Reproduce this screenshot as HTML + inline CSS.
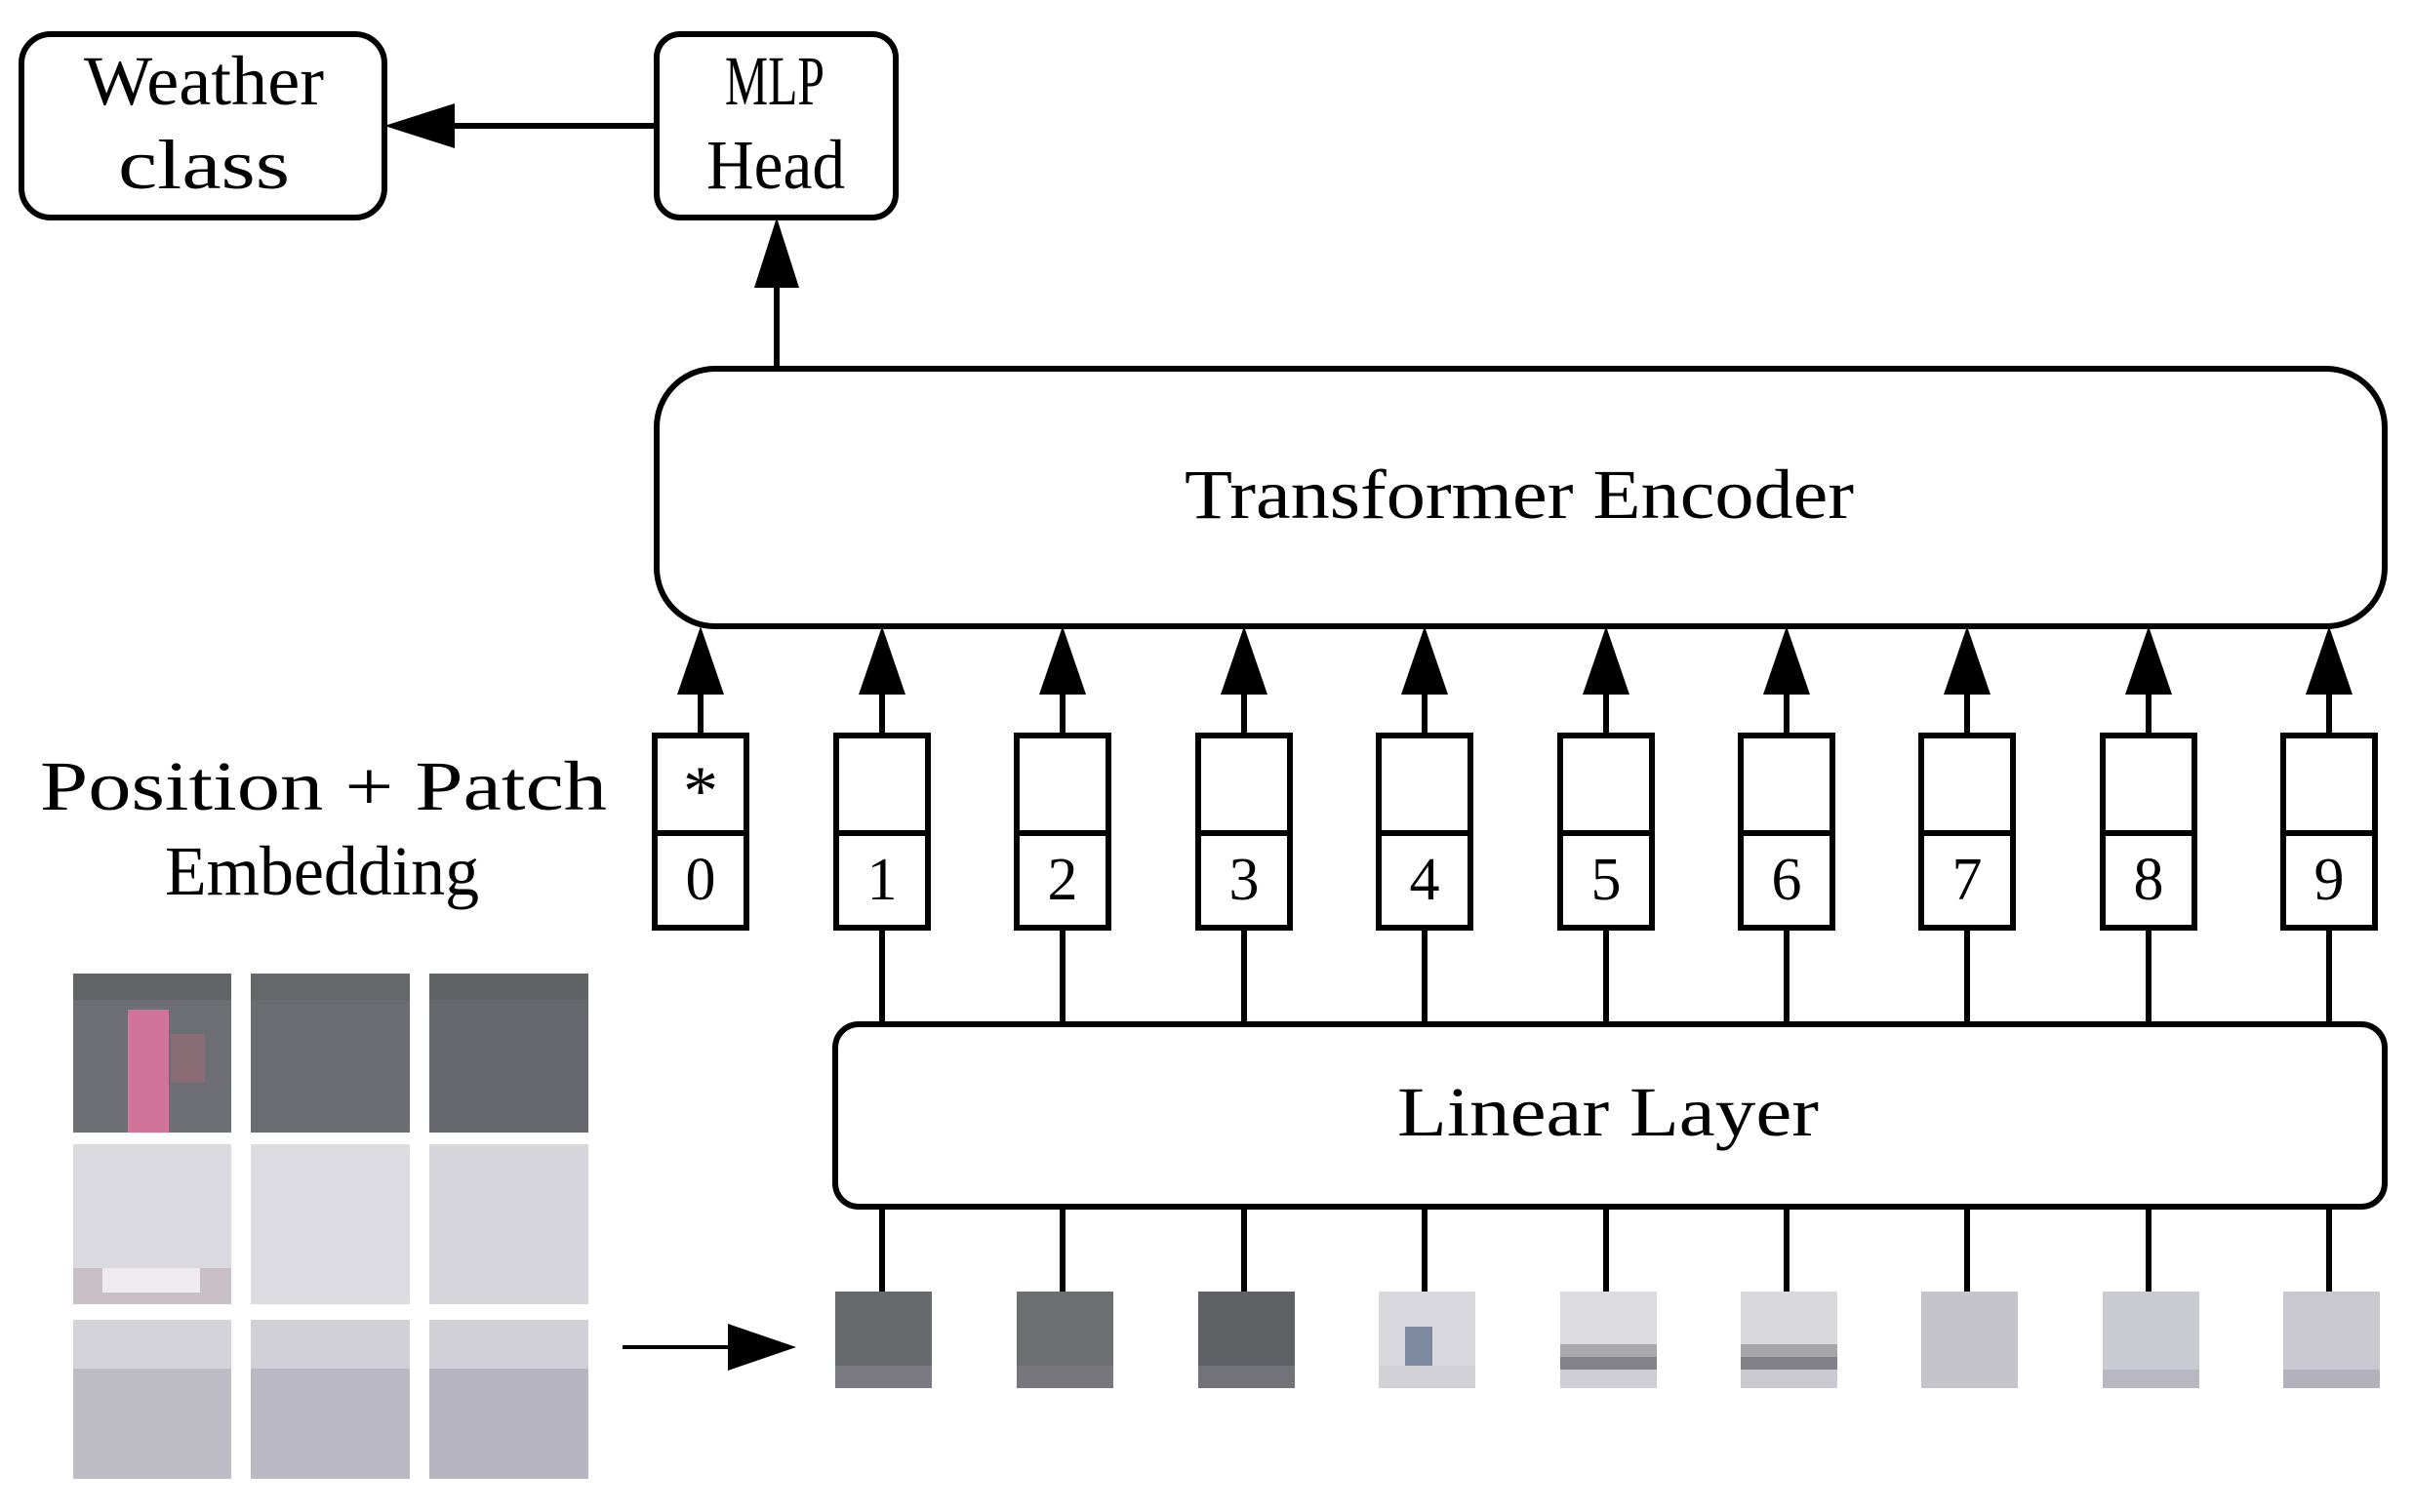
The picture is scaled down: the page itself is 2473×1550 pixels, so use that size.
<!DOCTYPE html>
<html><head><meta charset="utf-8"><style>html,body{margin:0;padding:0;background:#fff}svg{display:block}</style></head>
<body>
<svg width="2473" height="1550" viewBox="0 0 2473 1550" xmlns="http://www.w3.org/2000/svg" font-family="'Liberation Serif', serif">
<rect width="2473" height="1550" fill="#fff"/>
<g fill="none" stroke="#000" stroke-width="6">
  <rect x="22" y="35" width="372" height="188" rx="30"/>
  <rect x="673" y="35" width="245" height="188" rx="24"/>
  <rect x="673" y="378" width="1771" height="264" rx="60"/>
  <rect x="856" y="1050" width="1588" height="187" rx="24"/>
  <line x1="673" y1="129" x2="460" y2="129"/>
  <line x1="796" y1="378" x2="796" y2="290"/>
  <line x1="638" y1="1381" x2="750" y2="1381" stroke-width="4"/>
</g>
<g fill="#000">
  <polygon points="394,129 466,106 466,152"/>
  <polygon points="796,223 773,295 819,295"/>
  <polygon points="816,1381 746,1357 746,1405"/>
</g>
<g id="cols"></g>
<g font-size="72" fill="#000">
  <text x="86" y="107" textLength="246" lengthAdjust="spacingAndGlyphs">Weather</text>
  <text x="121" y="193" textLength="176" lengthAdjust="spacingAndGlyphs">class</text>
  <text x="743" y="107" textLength="102" lengthAdjust="spacingAndGlyphs">MLP</text>
  <text x="724" y="193" textLength="142" lengthAdjust="spacingAndGlyphs">Head</text>
  <text x="1214" y="531" textLength="686" lengthAdjust="spacingAndGlyphs">Transformer Encoder</text>
  <text x="1432" y="1164" textLength="432" lengthAdjust="spacingAndGlyphs">Linear Layer</text>
  <text x="41" y="830" textLength="581" lengthAdjust="spacingAndGlyphs">Position + Patch</text>
  <text x="169" y="917" textLength="322" lengthAdjust="spacingAndGlyphs">Embedding</text>
</g>
<!-- columns -->
<g stroke="#000" stroke-width="6" fill="none">
  <g id="c0"><line x1="718" y1="712" x2="718" y2="754"/><rect x="671" y="754" width="94" height="197"/><line x1="671" y1="854" x2="765" y2="854"/></g>
</g>
<g fill="#000"><polygon points="718,642 694,712 742,712"/></g>
<text x="718" y="835" font-size="72" text-anchor="middle">*</text>
<text x="718" y="922" font-size="62" text-anchor="middle">0</text>

<g stroke="#000" stroke-width="6" fill="none">
<line x1="904" y1="712" x2="904" y2="754"/><rect x="857" y="754" width="94" height="197"/><line x1="857" y1="854" x2="951" y2="854"/><line x1="904" y1="951" x2="904" y2="1050"/><line x1="904" y1="1237" x2="904" y2="1326"/>
<line x1="1089" y1="712" x2="1089" y2="754"/><rect x="1042" y="754" width="94" height="197"/><line x1="1042" y1="854" x2="1136" y2="854"/><line x1="1089" y1="951" x2="1089" y2="1050"/><line x1="1089" y1="1237" x2="1089" y2="1326"/>
<line x1="1275" y1="712" x2="1275" y2="754"/><rect x="1228" y="754" width="94" height="197"/><line x1="1228" y1="854" x2="1322" y2="854"/><line x1="1275" y1="951" x2="1275" y2="1050"/><line x1="1275" y1="1237" x2="1275" y2="1326"/>
<line x1="1460" y1="712" x2="1460" y2="754"/><rect x="1413" y="754" width="94" height="197"/><line x1="1413" y1="854" x2="1507" y2="854"/><line x1="1460" y1="951" x2="1460" y2="1050"/><line x1="1460" y1="1237" x2="1460" y2="1326"/>
<line x1="1646" y1="712" x2="1646" y2="754"/><rect x="1599" y="754" width="94" height="197"/><line x1="1599" y1="854" x2="1693" y2="854"/><line x1="1646" y1="951" x2="1646" y2="1050"/><line x1="1646" y1="1237" x2="1646" y2="1326"/>
<line x1="1831" y1="712" x2="1831" y2="754"/><rect x="1784" y="754" width="94" height="197"/><line x1="1784" y1="854" x2="1878" y2="854"/><line x1="1831" y1="951" x2="1831" y2="1050"/><line x1="1831" y1="1237" x2="1831" y2="1326"/>
<line x1="2016" y1="712" x2="2016" y2="754"/><rect x="1969" y="754" width="94" height="197"/><line x1="1969" y1="854" x2="2063" y2="854"/><line x1="2016" y1="951" x2="2016" y2="1050"/><line x1="2016" y1="1237" x2="2016" y2="1326"/>
<line x1="2202" y1="712" x2="2202" y2="754"/><rect x="2155" y="754" width="94" height="197"/><line x1="2155" y1="854" x2="2249" y2="854"/><line x1="2202" y1="951" x2="2202" y2="1050"/><line x1="2202" y1="1237" x2="2202" y2="1326"/>
<line x1="2387" y1="712" x2="2387" y2="754"/><rect x="2340" y="754" width="94" height="197"/><line x1="2340" y1="854" x2="2434" y2="854"/><line x1="2387" y1="951" x2="2387" y2="1050"/><line x1="2387" y1="1237" x2="2387" y2="1326"/>
</g>
<g fill="#000">
<polygon points="904,642 880,712 928,712"/><polygon points="1089,642 1065,712 1113,712"/><polygon points="1275,642 1251,712 1299,712"/>
<polygon points="1460,642 1436,712 1484,712"/><polygon points="1646,642 1622,712 1670,712"/><polygon points="1831,642 1807,712 1855,712"/>
<polygon points="2016,642 1992,712 2040,712"/><polygon points="2202,642 2178,712 2226,712"/><polygon points="2387,642 2363,712 2411,712"/>
</g>
<g font-size="62" text-anchor="middle">
<text x="904" y="922">1</text><text x="1089" y="922">2</text><text x="1275" y="922">3</text><text x="1460" y="922">4</text><text x="1646" y="922">5</text><text x="1831" y="922">6</text><text x="2016" y="922">7</text><text x="2202" y="922">8</text><text x="2387" y="922">9</text>
</g>
<!-- small patches -->
<g>
<rect x="856" y="1324" width="99" height="99" fill="#676a6d"/><rect x="856" y="1400" width="99" height="23" fill="#7b7a82"/>
<rect x="1042" y="1324" width="99" height="99" fill="#6c6f70"/><rect x="1042" y="1400" width="99" height="23" fill="#78777e"/>
<rect x="1228" y="1324" width="99" height="99" fill="#5f6164"/><rect x="1228" y="1400" width="99" height="23" fill="#737278"/>
<rect x="1413" y="1324" width="99" height="99" fill="#d9d8de"/><rect x="1440" y="1360" width="28" height="50" fill="#7e8aa0"/><rect x="1413" y="1400" width="99" height="23" fill="#d2d1d8"/>
<rect x="1599" y="1324" width="99" height="99" fill="#dcdbe0"/><rect x="1599" y="1378" width="99" height="13" fill="#a9a9ad"/><rect x="1599" y="1391" width="99" height="13" fill="#828288"/><rect x="1599" y="1404" width="99" height="19" fill="#cfced6"/>
<rect x="1784" y="1324" width="99" height="99" fill="#d8d8dd"/><rect x="1784" y="1378" width="99" height="13" fill="#a6a6aa"/><rect x="1784" y="1391" width="99" height="13" fill="#818187"/><rect x="1784" y="1404" width="99" height="19" fill="#cbcad1"/>
<rect x="1969" y="1324" width="99" height="99" fill="#c5c4cb"/>
<rect x="2155" y="1324" width="99" height="99" fill="#cacad1"/><rect x="2155" y="1404" width="99" height="19" fill="#b8b7c2"/>
<rect x="2340" y="1324" width="99" height="99" fill="#c8c8ce"/><rect x="2340" y="1404" width="99" height="19" fill="#b3b2bc"/>
</g>
<!-- grid -->
<g>
<rect x="75" y="998" width="162" height="163" fill="#6d6e74"/><rect x="75" y="998" width="162" height="27" fill="#626566"/>
<rect x="131" y="1035" width="42" height="126" fill="#d2739a"/><rect x="175" y="1060" width="35" height="50" fill="#8a6c74"/>
<rect x="257" y="998" width="163" height="163" fill="#6c6d73"/><rect x="257" y="998" width="163" height="27" fill="#656868"/>
<rect x="440" y="998" width="163" height="163" fill="#66676d"/><rect x="440" y="998" width="163" height="27" fill="#616464"/>
<rect x="75" y="1173" width="162" height="164" fill="#d9d9df"/><rect x="75" y="1300" width="162" height="37" fill="#c8c0c6"/><rect x="105" y="1300" width="100" height="25" fill="#eeeaee"/>
<rect x="257" y="1173" width="163" height="164" fill="#dcdbe1"/>
<rect x="440" y="1173" width="163" height="164" fill="#d6d5dc"/>
<rect x="75" y="1353" width="162" height="163" fill="#bebdc6"/><rect x="75" y="1353" width="162" height="50" fill="#d4d3da"/>
<rect x="257" y="1353" width="163" height="163" fill="#bab9c3"/><rect x="257" y="1353" width="163" height="50" fill="#d1d0d7"/>
<rect x="440" y="1353" width="163" height="163" fill="#b7b6c0"/><rect x="440" y="1353" width="163" height="50" fill="#d1d0d7"/>
</g>
</svg>
</body></html>
